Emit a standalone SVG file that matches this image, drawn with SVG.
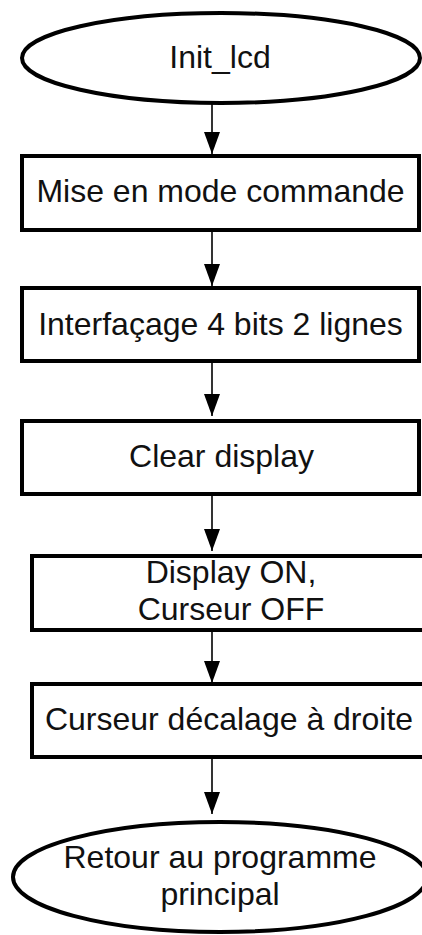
<svg xmlns="http://www.w3.org/2000/svg" width="422" height="935" viewBox="0 0 422 935">
<defs>
<style>
.shape{fill:#fff;stroke:#000;stroke-width:4}
.lbl{font-family:"Liberation Sans",Arial,sans-serif;font-size:32px;fill:#111;text-anchor:middle}
.conn{stroke:#000;stroke-width:1.6;fill:none}
</style>
<marker id="ah" markerUnits="userSpaceOnUse" markerWidth="22" markerHeight="16" refX="22" refY="8" orient="auto">
<path d="M0,0 L22,8 L0,16 z" fill="#000"/>
</marker>
</defs>
<rect width="422" height="935" fill="#fff"/>
<g id="connectors">
<line class="conn" x1="212" y1="103" x2="212" y2="154" marker-end="url(#ah)"/>
<line class="conn" x1="212" y1="230" x2="212" y2="286" marker-end="url(#ah)"/>
<line class="conn" x1="212" y1="361" x2="212" y2="416" marker-end="url(#ah)"/>
<line class="conn" x1="212" y1="494" x2="212" y2="551" marker-end="url(#ah)"/>
<line class="conn" x1="212" y1="630" x2="212" y2="683" marker-end="url(#ah)"/>
<line class="conn" x1="212" y1="757" x2="212" y2="814" marker-end="url(#ah)"/>
</g>
<g id="n_init">
<ellipse class="shape" cx="221" cy="58" rx="199" ry="45"/>
<text class="lbl" x="220" y="68">Init_lcd</text>
</g>
<g id="n_mode">
<rect class="shape" x="22" y="156" width="397" height="74"/>
<text class="lbl" x="220.5" y="202">Mise en mode commande</text>
</g>
<g id="n_iface">
<rect class="shape" x="22" y="288" width="397" height="73"/>
<text class="lbl" x="220.5" y="335">Interfaçage 4 bits 2 lignes</text>
</g>
<g id="n_clear">
<rect class="shape" x="22" y="421" width="397" height="73"/>
<text class="lbl" x="221.5" y="467">Clear display</text>
</g>
<g id="n_display">
<rect class="shape" x="32" y="556" width="398" height="74"/>
<text class="lbl" x="231" y="583">Display ON,</text>
<text class="lbl" x="231" y="620">Curseur OFF</text>
</g>
<g id="n_cursor">
<rect class="shape" x="32" y="684" width="398" height="73"/>
<text class="lbl" x="229" y="730">Curseur décalage à droite</text>
</g>
<g id="n_return">
<ellipse class="shape" cx="220" cy="877" rx="207" ry="55"/>
<text class="lbl" x="220" y="868">Retour au programme</text>
<text class="lbl" x="220" y="905">principal</text>
</g>
</svg>
